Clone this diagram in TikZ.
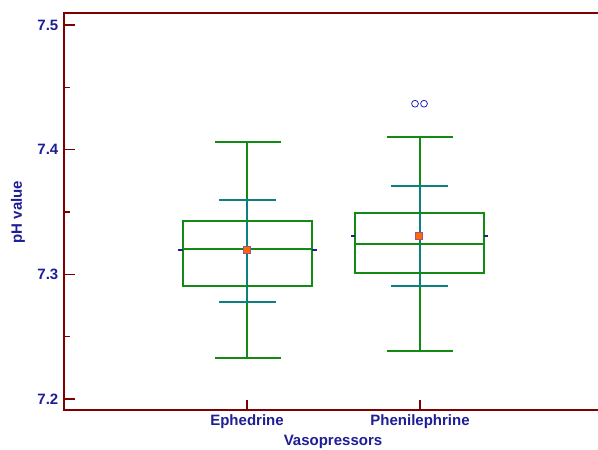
\documentclass[tikz,border=0pt]{standalone}
\usepackage{fontspec}
\setmainfont{Liberation Sans}
\definecolor{axisred}{HTML}{7F0000}
\definecolor{txtblue}{HTML}{1E1E96}
\definecolor{outblue}{HTML}{2222BB}
\definecolor{boxgreen}{HTML}{138A13}
\definecolor{wteal}{HTML}{0A8080}
\definecolor{meanorange}{HTML}{FF6A00}
\definecolor{meanedge}{HTML}{A0508A}
\tikzset{
  axisline/.style={draw=axisred, line width=1.6pt},
  tickline/.style={draw=axisred, line width=1.3pt},
  lbl/.style={text=txtblue, font=\fontsize{15}{17}\selectfont\bfseries, inner sep=0pt},
  gline/.style={draw=boxgreen, line width=1.8pt},
  tline/.style={draw=wteal, line width=1.8pt},
  bline/.style={draw=txtblue, line width=1.2pt},
  meanbox/.style={fill=meanorange, draw=meanedge, line width=0.7pt},
  outlier/.style={draw=outblue, line width=0.8pt}
}
\begin{document}
\begin{tikzpicture}[x=1pt,y=-1pt]
\useasboundingbox (0,0) rectangle (598,450);
\fill[white] (0,0) rectangle (598,450);
% axes
\draw[axisline] (598,13) -- (64,13) -- (64,410) -- (598,410);
% y ticks
\foreach \v/\t in {7.2/7.2,7.3/7.3,7.4/7.4,7.5/7.5}{
  \pgfmathsetmacro{\yy}{399-(\v-7.2)*1246.7}
  \draw[tickline] (64,\yy) -- (75,\yy);
  \node[lbl, anchor=east] (ylab\t) at (58.5,\yy) {\t};
}
\foreach \v in {7.25,7.35,7.45}{
  \pgfmathsetmacro{\yy}{399-(\v-7.2)*1246.7}
  \draw[tickline] (64,\yy) -- (70,\yy);
}
% x ticks
\draw[tickline] (247,410) -- (247,400);
\draw[tickline] (420,410) -- (420,400);
\node[lbl] (xl1) at (247,422) {Ephedrine};
\node[lbl] (xl2) at (420,422) {Phenilephrine};
\node[lbl] (xtitle) at (333,442) {Vasopressors};
\node[lbl, rotate=90] (ytitle) at (18,212) {pH value};
% Box 1: Ephedrine
\draw[gline] (247,142) -- (247,200);
\draw[gline] (247,302) -- (247,358);
\draw[tline] (247,200) -- (247,302);
\draw[gline] (215,142) -- (281,142);
\draw[gline] (215,358) -- (281,358);
\draw[tline] (219,200) -- (276,200);
\draw[tline] (219,302) -- (276,302);
\draw[gline] (183.3,221.3) rectangle (311.7,285.7);
\draw[gline] (183.3,248.7) -- (311.7,248.7);
\draw[bline] (178,250) -- (183.3,250);
\draw[bline] (311.7,250) -- (317,250);
\draw[meanbox] (243.5,246.5) rectangle (250.5,253.5);
% Box 2: Phenilephrine
\draw[gline] (419.7,137) -- (419.7,186.3);
\draw[gline] (419.7,286.3) -- (419.7,351);
\draw[tline] (419.7,186.3) -- (419.7,286.3);
\draw[gline] (386.7,137) -- (452.7,137);
\draw[gline] (386.7,351) -- (452.7,351);
\draw[tline] (391,186.3) -- (448,186.3);
\draw[tline] (391,286.3) -- (448,286.3);
\draw[gline] (355.3,212.7) rectangle (483.7,273.3);
\draw[gline] (355.3,244) -- (483.7,244);
\draw[bline] (351,236) -- (355.3,236);
\draw[bline] (483.7,236) -- (488,236);
\draw[meanbox] (415.7,232.5) rectangle (422.7,239.5);
\draw[outlier] (415,103.7) circle (3.4);
\draw[outlier] (424,103.7) circle (3.4);
\end{tikzpicture}
\end{document}
